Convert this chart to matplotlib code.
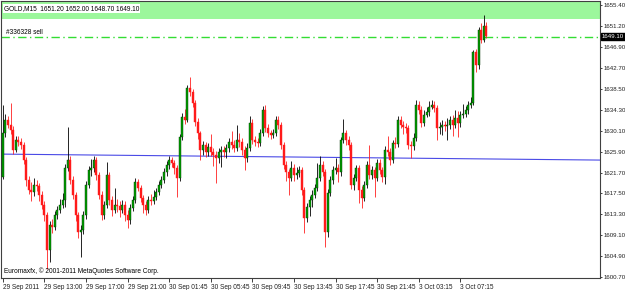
import matplotlib
matplotlib.use("Agg")
import matplotlib.pyplot as plt
from matplotlib import font_manager
import numpy as np

# ---------------- data ----------------
opens = [1620.8,1629.6,1632.3,1631.3,1630.2,1626.2,1628.2,1627.9,1627.2,1624.2,
         1620.2,1618.2,1617.8,1619.2,1618.9,1617.2,1615.2,1613.1,1606.1,1611.1,
         1610.8,1613.1,1614.2,1615.2,1616.2,1622.6,1624.2,1620.2,1617.2,1613.1,
         1609.7,1610.1,1613.1,1619.2,1622.2,1622.6,1624.2,1621.2,1617.2,1613.1,
         1615.2,1621.2,1616.2,1614.2,1615.2,1615.0,1614.2,1615.2,1613.1,1612.1,
         1614.6,1616.2,1619.8,1618.6,1616.6,1615.2,1614.2,1616.2,1616.0,1616.8,
         1617.8,1619.2,1620.2,1621.8,1623.2,1624.2,1623.6,1622.6,1620.6,1628.8,
         1632.9,1632.3,1638.7,1637.9,1635.7,1631.9,1629.6,1626.2,1627.2,1625.8,
         1626.8,1625.8,1625.2,1624.6,1625.8,1626.2,1625.8,1626.6,1627.8,1627.2,
         1626.6,1628.2,1627.8,1626.2,1624.6,1626.6,1631.7,1628.2,1627.8,1627.6,
         1629.6,1634.3,1630.6,1629.6,1629.2,1629.6,1632.3,1631.3,1627.2,1623.2,
         1621.8,1620.6,1622.6,1621.2,1621.6,1622.2,1618.2,1612.5,1614.8,1616.2,
         1617.2,1618.6,1620.6,1623.2,1621.8,1609.7,1617.6,1620.2,1622.2,1622.6,
         1621.8,1628.2,1629.6,1628.2,1627.2,1619.2,1620.6,1622.6,1618.2,1616.6,
         1619.2,1623.2,1621.2,1622.2,1620.6,1623.6,1622.2,1620.8,1626.2,1625.8,
         1624.2,1627.6,1627.4,1632.3,1631.3,1630.9,1630.6,1627.2,1627.0,1628.6,
         1635.3,1634.3,1631.7,1633.3,1633.9,1634.9,1635.3,1634.7,1630.6,1630.9,
         1631.3,1631.1,1631.3,1632.3,1631.3,1632.7,1631.7,1633.3,1633.5,1634.3,
         1635.3,1635.7,1645.9,1643.3,1650.4,1648.4,1651.2]
highs = [1635.3,1633.4,1633.0,1635.7,1631.0,1629.0,1629.1,1628.6,1627.8,1624.8,
         1621.0,1619.8,1620.6,1620.1,1619.6,1617.9,1616.0,1613.7,1611.9,1612.4,
         1614.0,1614.9,1616.3,1617.5,1623.4,1630.8,1625.0,1621.0,1617.8,1613.8,
         1611.2,1614.0,1619.9,1623.0,1624.5,1625.1,1624.9,1621.8,1617.9,1616.0,
         1623.8,1621.9,1617.0,1618.6,1616.4,1616.0,1616.1,1615.9,1614.2,1615.4,
         1617.0,1620.6,1620.4,1619.2,1617.1,1616.0,1617.0,1617.4,1618.1,1618.6,
         1620.0,1621.0,1622.7,1624.0,1625.1,1624.9,1624.3,1623.2,1629.5,1633.6,
         1634.4,1639.3,1640.9,1638.5,1636.3,1632.6,1630.1,1628.0,1627.9,1627.6,
         1629.4,1626.7,1626.0,1626.6,1627.0,1627.0,1627.4,1628.7,1630.0,1628.2,
         1631.2,1629.6,1628.6,1627.0,1627.6,1633.0,1632.4,1629.0,1628.6,1630.4,
         1635.0,1635.2,1631.4,1630.3,1630.4,1633.0,1633.0,1631.9,1627.8,1624.0,
         1622.4,1624.0,1623.4,1622.8,1623.0,1622.8,1618.8,1615.6,1617.0,1618.1,
         1619.4,1623.6,1625.0,1624.1,1622.4,1618.3,1621.0,1623.0,1624.6,1623.4,
         1628.9,1632.5,1630.3,1629.0,1627.8,1621.4,1623.3,1623.2,1619.0,1620.0,
         1624.0,1627.2,1623.0,1622.9,1624.4,1624.4,1622.9,1627.0,1629.0,1626.6,
         1628.3,1628.8,1633.0,1633.0,1632.0,1631.6,1631.2,1628.0,1629.6,1636.3,
         1636.0,1635.0,1634.2,1634.8,1636.0,1636.2,1636.0,1635.3,1631.8,1632.2,
         1632.0,1632.6,1633.0,1633.2,1634.3,1634.0,1634.0,1635.4,1635.0,1636.0,
         1636.8,1646.4,1646.6,1650.9,1651.8,1653.4,1652.0]
lows = [1620.4,1628.9,1630.6,1629.5,1625.4,1625.8,1627.0,1626.4,1623.4,1619.0,
        1617.3,1615.9,1617.0,1617.9,1616.0,1614.3,1611.9,1602.3,1603.6,1609.6,
        1610.1,1612.4,1613.5,1614.6,1614.8,1622.0,1619.4,1616.4,1612.0,1608.6,
        1604.7,1609.3,1612.3,1618.6,1621.0,1621.8,1620.2,1616.4,1612.2,1612.4,
        1614.6,1615.1,1613.0,1613.6,1613.8,1612.7,1613.5,1612.0,1610.6,1611.3,
        1613.9,1615.5,1617.9,1615.8,1613.6,1613.1,1613.6,1615.2,1615.3,1616.1,
        1617.1,1618.5,1619.6,1621.0,1622.5,1622.8,1621.5,1616.8,1620.0,1628.2,
        1631.4,1631.8,1637.0,1634.9,1631.0,1628.4,1624.2,1625.3,1624.9,1625.1,
        1625.0,1623.0,1619.6,1623.6,1622.8,1624.9,1624.6,1625.9,1626.4,1625.8,
        1626.0,1626.9,1625.3,1622.2,1623.9,1626.0,1627.4,1627.0,1626.8,1627.0,
        1629.0,1629.9,1628.8,1628.4,1628.6,1629.0,1630.4,1626.4,1622.4,1619.9,
        1617.2,1619.9,1620.0,1620.4,1620.8,1617.1,1609.5,1611.7,1613.0,1614.7,
        1616.6,1618.0,1619.9,1620.9,1606.7,1608.7,1616.9,1619.4,1621.5,1619.8,
        1621.0,1627.6,1627.3,1626.2,1618.4,1618.2,1619.9,1615.6,1614.6,1615.9,
        1618.6,1620.4,1620.4,1616.8,1619.9,1621.4,1619.8,1619.4,1625.0,1623.2,
        1623.6,1626.6,1626.8,1630.6,1629.4,1629.6,1626.4,1624.6,1626.2,1628.0,
        1633.4,1630.9,1631.0,1632.9,1633.1,1634.4,1633.8,1628.2,1629.4,1629.2,
        1630.0,1628.2,1630.5,1629.0,1630.6,1628.8,1630.9,1632.6,1632.8,1633.4,
        1634.6,1635.2,1641.9,1642.6,1647.8,1648.0,1648.7]
closes = [1629.6,1632.3,1631.3,1630.2,1626.2,1628.2,1627.9,1627.2,1624.2,1620.2,
          1618.2,1617.8,1619.2,1618.9,1617.2,1615.2,1613.1,1606.1,1611.1,1610.8,
          1613.1,1614.2,1615.2,1616.2,1622.6,1624.2,1620.2,1617.2,1613.1,1609.7,
          1610.1,1613.1,1619.2,1622.2,1622.6,1624.2,1621.2,1617.2,1613.1,1615.2,
          1621.2,1616.2,1614.2,1615.2,1615.0,1614.2,1615.2,1613.1,1612.1,1614.6,
          1616.2,1619.8,1618.6,1616.6,1615.2,1614.2,1616.2,1616.0,1616.8,1617.8,
          1619.2,1620.2,1621.8,1623.2,1624.2,1623.6,1622.6,1620.6,1628.8,1632.9,
          1632.3,1638.7,1637.9,1635.7,1631.9,1629.6,1626.2,1627.2,1625.8,1626.8,
          1625.8,1625.2,1624.6,1625.8,1626.2,1625.8,1626.6,1627.8,1627.2,1626.6,
          1628.2,1627.8,1626.2,1624.6,1626.6,1631.7,1628.2,1627.8,1627.6,1629.6,
          1634.3,1630.6,1629.6,1629.2,1629.6,1632.3,1631.3,1627.2,1623.2,1621.8,
          1620.6,1622.6,1621.2,1621.6,1622.2,1618.2,1612.5,1614.8,1616.2,1617.2,
          1618.6,1620.6,1623.2,1621.8,1609.7,1617.6,1620.2,1622.2,1622.6,1621.8,
          1628.2,1629.6,1628.2,1627.2,1619.2,1620.6,1622.6,1618.2,1616.6,1619.2,
          1623.2,1621.2,1622.2,1620.6,1623.6,1622.2,1620.8,1626.2,1625.8,1624.2,
          1627.6,1627.4,1632.3,1631.3,1630.9,1630.6,1627.2,1627.0,1628.6,1635.3,
          1634.3,1631.7,1633.3,1633.9,1634.9,1635.3,1634.7,1630.6,1630.9,1631.3,
          1631.1,1631.3,1632.3,1631.3,1632.7,1631.7,1633.3,1633.5,1634.3,1635.3,
          1635.7,1645.9,1643.3,1650.4,1648.4,1651.2,1649.1]

price_ticks = [1655.40, 1651.20, 1646.90, 1642.70, 1638.50, 1634.30, 1630.10,
               1625.90, 1621.70, 1617.50, 1613.30, 1609.10, 1604.90, 1600.70]
time_labels = ["29 Sep 2011", "29 Sep 13:00", "29 Sep 17:00", "29 Sep 21:00",
               "30 Sep 01:45", "30 Sep 05:45", "30 Sep 09:45", "30 Sep 13:45",
               "30 Sep 17:45", "30 Sep 21:45", "3 Oct 03:15", "3 Oct 07:15"]
time_label_bars = [0, 16, 32, 48, 64, 80, 96, 112, 128, 144, 160, 176]

tp_zone = [1652.6, 1656.2]       # green take-profit band
order_price = 1648.9             # "#336328 sell" order line
current_price = 1649.10
trend_bars = [0, 230]
trend_prices = [1625.4, 1624.2]
header = "GOLD,M15  1651.20 1652.00 1648.70 1649.10"
order_label = "#336328 sell"
copyright_text = "Euromaxfx, \u00a9 2001-2011 MetaQuotes Software Corp."

# pick a narrow font if available
names = {f.name for f in font_manager.fontManager.ttflist}
fam = ["Liberation Sans Narrow"] if "Liberation Sans Narrow" in names else ["Liberation Sans"]
plt.rcParams['font.family'] = fam + ['DejaVu Sans']
narrow = fam[0] == "Liberation Sans Narrow"
FS = 5.6 if narrow else 4.7
FSY = 5.2 if narrow else 4.4

# ---------------- figure ----------------
W, H = 625, 290
fig = plt.figure(figsize=(W / 100, H / 100), dpi=100)
fig.patch.set_facecolor("white")
ax = fig.add_axes([1.5 / W, (H - 278) / H, 598.5 / W, 277 / H])
ax.set_facecolor("white")

spacing_px = 2.6
ax.set_xlim(-0.5, -0.5 + 598.5 / spacing_px)
ax.set_ylim(1600.48, 1656.2)

ax.axhspan(tp_zone[0], tp_zone[1], color="#9cf79c", zorder=0, lw=0)
ax.axhline(order_price, color="#33dd33", lw=1.0, dashes=(6, 2.5, 1, 2.5), zorder=1)
ax.plot(trend_bars, trend_prices, color="#4a4ae6", lw=0.8, zorder=1)

o = np.array(opens); h = np.array(highs); l = np.array(lows); c = np.array(closes)
idx = np.arange(len(c))
up = c >= o
ax.vlines(idx[up], l[up], h[up], color="black", lw=0.6, zorder=2)
ax.vlines(idx[~up], l[~up], h[~up], color="#ff2020", lw=0.6, zorder=2)
bottoms = np.minimum(o, c)
heights = np.maximum(np.abs(c - o), 0.15)
ax.bar(idx[up], heights[up], bottom=bottoms[up], width=0.78, color="#00a000",
       edgecolor="#003300", lw=0.3, zorder=3)
ax.bar(idx[~up], heights[~up], bottom=bottoms[~up], width=0.78, color="#ff1a1a",
       edgecolor="#ff1a1a", lw=0.3, zorder=3)

# axes styling
for s in ["left", "bottom", "right", "top"]:
    ax.spines[s].set_color("#404040")
    ax.spines[s].set_linewidth(0.8)
ax.yaxis.tick_right()
ax.set_yticks(price_ticks)
ax.set_yticklabels([f"{p:.2f}" for p in price_ticks])
ax.tick_params(axis="y", length=1.5, width=0.6, pad=0.8, labelsize=FSY, colors="#202020")
ax.set_xticks(time_label_bars)
ax.set_xticklabels(time_labels)
ax.tick_params(axis="x", length=3, width=0.6, pad=1.5, labelsize=FS, colors="#202020")
for lab in ax.get_xticklabels():
    lab.set_ha("left")

# texts
ax.text(0.004, 0.985, header, transform=ax.transAxes, fontsize=FS, va="top", ha="left",
        color="black", bbox=dict(facecolor="white", edgecolor="none", pad=0.6), zorder=5)
ax.text(1.2, order_price + 0.35, order_label, fontsize=FS, va="bottom", ha="left",
        color="black", zorder=5)
ax.text(0.004, 0.012, copyright_text, transform=ax.transAxes, fontsize=FS,
        va="bottom", ha="left", color="black", zorder=5)
ax.annotate(f"{current_price:.2f}", xy=(1.0, current_price), xycoords=("axes fraction", "data"),
            xytext=(1.2, 0), textcoords="offset points", fontsize=FSY, color="white",
            va="center", ha="left", annotation_clip=False,
            bbox=dict(facecolor="black", edgecolor="black", pad=0.6), zorder=6)

fig.savefig("out.png", dpi=100, facecolor="white")
